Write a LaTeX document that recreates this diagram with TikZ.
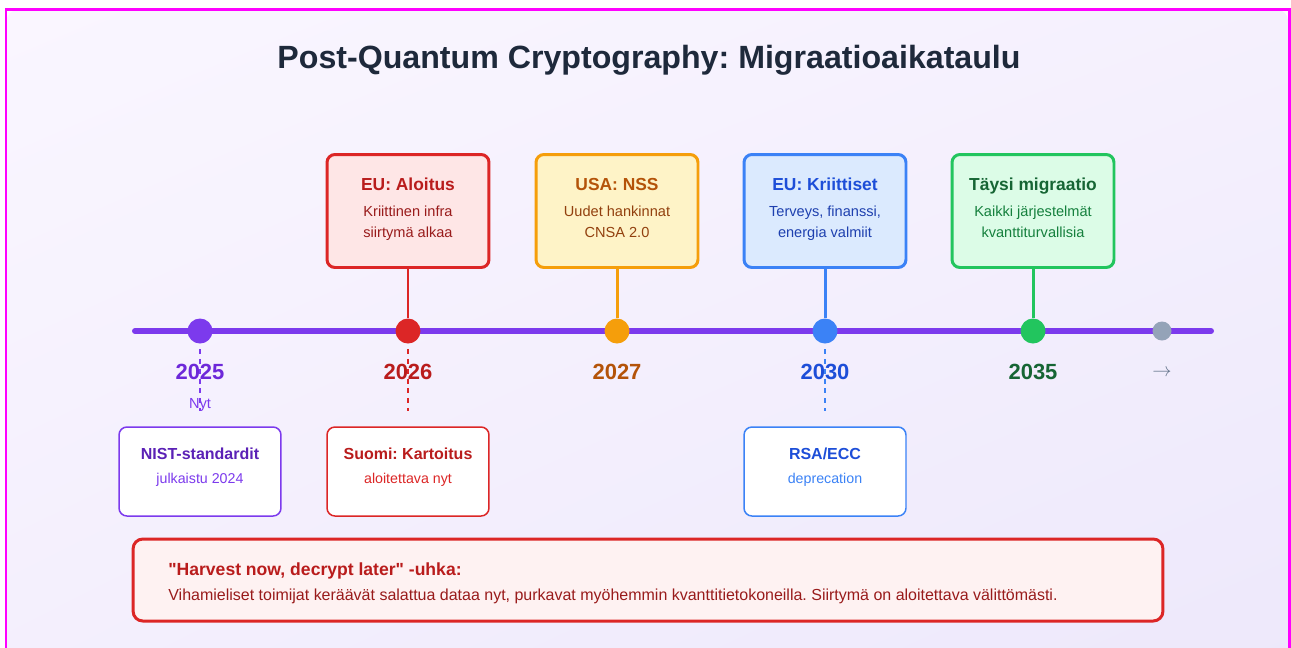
\documentclass[tikz,border=0pt]{standalone}
\usepackage{fontspec}
\setmainfont{Liberation Sans}
\newfontfamily\plainsans{Liberation Sans}[Ligatures=TeXOff]
\usepackage{xcolor}
\usetikzlibrary{positioning, shadings}
\frenchspacing

\definecolor{ink}{HTML}{1E293B}
\definecolor{frame}{HTML}{FF00FF}
\definecolor{bgA}{HTML}{FAF6FF}
\definecolor{bgB}{HTML}{EDE8FB}
\definecolor{vio}{HTML}{7C3AED}
\definecolor{vioD}{HTML}{6D28D9}
\definecolor{vioT}{HTML}{5B21B6}
\definecolor{rd}{HTML}{DC2626}
\definecolor{rdD}{HTML}{B91C1C}
\definecolor{rdT}{HTML}{991B1B}
\definecolor{rdF}{HTML}{FEE6E6}
\definecolor{rdL}{HTML}{FEF2F2}
\definecolor{org}{HTML}{F59E0B}
\definecolor{orgD}{HTML}{B45309}
\definecolor{orgT}{HTML}{92400E}
\definecolor{orgF}{HTML}{FEF3C7}
\definecolor{blu}{HTML}{3B82F6}
\definecolor{bluD}{HTML}{1D4ED8}
\definecolor{bluT}{HTML}{1E40AF}
\definecolor{bluF}{HTML}{DBEAFE}
\definecolor{grn}{HTML}{22C55E}
\definecolor{grnD}{HTML}{166534}
\definecolor{grnT}{HTML}{15803D}
\definecolor{grnF}{HTML}{DCFCE7}
\definecolor{slate}{HTML}{94A3B8}
\definecolor{slateD}{HTML}{64748B}

\tikzset{
  upperbox/.style   = {rectangle, draw, line width=1.7pt, rounded corners=4.5pt,
                       minimum width=3.24cm, minimum height=2.26cm, inner sep=0pt},
  lowerbox/.style   = {rectangle, draw, fill=white, line width=0.85pt, rounded corners=4.5pt,
                       minimum width=3.24cm, minimum height=1.78cm, inner sep=0pt},
  dot/.style        = {circle, minimum size=0.5cm, inner sep=0pt},
  stem/.style       = {line width=1.7pt},
  guide/.style      = {dash pattern=on 2.8pt off 2.8pt, line width=0.8pt, shorten <=3pt},
  year/.style       = {anchor=base, font=\fontsize{12.5}{15}\selectfont\bfseries},
  boxtitle/.style   = {anchor=base, font=\fontsize{9.9}{12}\selectfont\bfseries},
  boxtext/.style    = {anchor=base, font=\fontsize{8.3}{10}\selectfont},
  lowtitle/.style   = {anchor=base, font=\fontsize{9.1}{11}\selectfont\bfseries},
}

\begin{document}
\begin{tikzpicture}[x=0.02cm, y=-0.02cm]
  \useasboundingbox (0,0) rectangle (1291,647);
  \clip (0,0) rectangle (1291,647);

  % panel and outer frame
  \shade[upper left=bgA, upper right=bgA!60!bgB, lower left=bgA!50!bgB, lower right=bgB,
         rounded corners=6pt] (7,10) rectangle (1288,680);
  \draw[frame, line width=1.2pt] (6,9.5) rectangle (1289.5,700);

  \node[font=\fontsize{18.3}{22}\selectfont\bfseries, text=ink, anchor=base] (title)
    at (649,68) {Post-Quantum Cryptography: Migraatioaikataulu};

  % timeline axis
  \coordinate (axisL) at (135,331);
  \coordinate (axisR) at (1211,331);
  \draw[vio, line width=3.4pt, line cap=round] (axisL) -- (axisR);

  % milestone boxes above the axis
  \node[upperbox, draw=rd,  fill=rdF]  (b26) at (408,211) {};
  \node[upperbox, draw=org, fill=orgF] (b27) at (617,211) {};
  \node[upperbox, draw=blu, fill=bluF] (b30) at (825,211) {};
  \node[upperbox, draw=grn, fill=grnF] (b35) at (1033,211) {};

  \node[boxtitle, text=rdD]  (b26t) at (408,190) {EU: Aloitus};
  \node[boxtext,  text=rdT]  (b26a) at (408,216) {Kriittinen infra};
  \node[boxtext,  text=rdT]  (b26b) at (408,237) {siirtymä alkaa};
  \node[boxtitle, text=orgD] (b27t) at (617,190) {USA: NSS};
  \node[boxtext,  text=orgT] (b27a) at (617,216) {Uudet hankinnat};
  \node[boxtext,  text=orgT] (b27b) at (617,237) {CNSA 2.0};
  \node[boxtitle, text=bluD] (b30t) at (825,190) {EU: Kriittiset};
  \node[boxtext,  text=bluT] (b30a) at (825,216) {Terveys, finanssi,};
  \node[boxtext,  text=bluT] (b30b) at (825,237) {energia valmiit};
  \node[boxtitle, text=grnD] (b35t) at (1033,190) {Täysi migraatio};
  \node[boxtext,  text=grnT] (b35a) at (1033,216) {Kaikki järjestelmät};
  \node[boxtext,  text=grnT] (b35b) at (1033,237) {kvanttiturvallisia};

  % year dots
  \node[dot, fill=vio] (d25) at (200,331) {};
  \node[dot, fill=rd]  (d26) at (408,331) {};
  \node[dot, fill=org] (d27) at (617,331) {};
  \node[dot, fill=blu] (d30) at (825,331) {};
  \node[dot, fill=grn] (d35) at (1033,331) {};
  \node[dot, fill=slate, minimum size=0.38cm] (dend) at (1162,331) {};

  \draw[stem, rd]  (b26.south) -- (d26.north);
  \draw[stem, org] (b27.south) -- (d27.north);
  \draw[stem, blu] (b30.south) -- (d30.north);
  \draw[stem, grn] (b35.south) -- (d35.north);

  % year labels
  \node[year, text=vioD] (y25) at (200,379) {2025};
  \node[year, text=rdD]  (y26) at (408,379) {2026};
  \node[year, text=orgD] (y27) at (617,379) {2027};
  \node[year, text=bluD] (y30) at (825,379) {2030};
  \node[year, text=grnD] (y35) at (1033,379) {2035};
  \node[font=\fontsize{11.3}{13}\selectfont, text=slateD] (more) at (1162,373) {$\rightarrow$};
  \node[font=\fontsize{8.3}{10}\selectfont, text=vio, anchor=base] (now) at (200,408) {Nyt};

  % dashed guides down to the lower notes
  \coordinate (g25) at (200,411);
  \coordinate (g26) at (408,411);
  \coordinate (g30) at (825,411);
  \draw[guide, vio] (d25.south) -- (g25);
  \draw[guide, rd]  (d26.south) -- (g26);
  \draw[guide, blu] (d30.south) -- (g30);

  % notes below the axis
  \node[lowerbox, draw=vio] (n25) at (200,471.5) {};
  \node[lowerbox, draw=rd]  (n26) at (408,471.5) {};
  \node[lowerbox, draw=blu] (n30) at (825,471.5) {};
  \node[lowtitle, text=vioT] (n25t) at (200,459) {NIST-standardit};
  \node[boxtext,  text=vio, font=\fontsize{8.1}{10}\selectfont] (n25a) at (200,483) {julkaistu 2024};
  \node[lowtitle, text=rdD]  (n26t) at (408,459) {Suomi: Kartoitus};
  \node[boxtext,  text=rd, font=\fontsize{8.1}{10}\selectfont] (n26a) at (408,483) {aloitettava nyt};
  \node[lowtitle, text=bluD] (n30t) at (825,459) {RSA/ECC};
  \node[boxtext,  text=blu, font=\fontsize{8.1}{10}\selectfont] (n30a) at (825,483) {deprecation};

  % threat warning
  \node[rectangle, draw=rd, fill=rdL, line width=1.7pt, rounded corners=5.5pt,
        minimum width=20.6cm, minimum height=1.64cm, inner sep=0pt] (warn) at (648,580) {};
  \node[font=\plainsans\fontsize{10}{12}\selectfont\bfseries, text=rdD, anchor=base west, inner sep=0pt] (warnt)
    at (168,575) {"Harvest now, decrypt later" -uhka:};
  \node[font=\fontsize{9.1}{11}\selectfont, text=rdT, anchor=base west, inner sep=0pt] (warnb)
    at (168,600) {Vihamieliset toimijat keräävät salattua dataa nyt, purkavat myöhemmin kvanttitietokoneilla. Siirtymä on aloitettava välittömästi.};
\end{tikzpicture}
\end{document}
